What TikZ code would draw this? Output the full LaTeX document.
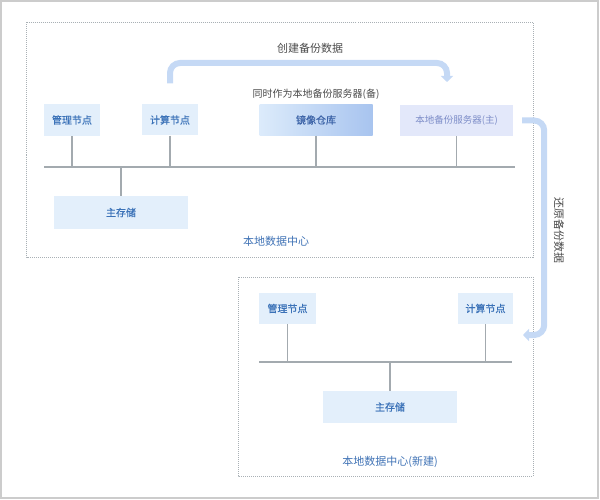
\documentclass[tikz,border=0pt]{standalone}
\usepackage{fontspec}
\setmainfont{Noto Sans CJK SC}
\newfontfamily\boxfont{Noto Sans CJK SC}[FakeBold=0.6]
\usepackage{tikz}
\usetikzlibrary{positioning,arrows.meta}

\definecolor{nodefill}{HTML}{E3EFFB}
\definecolor{nodetext}{HTML}{3B72B8}
\definecolor{repoleft}{HTML}{DCEBFB}
\definecolor{reporight}{HTML}{A8C4EF}
\definecolor{repotext}{HTML}{3D64A8}
\definecolor{bakfill}{HTML}{E3E8FA}
\definecolor{baktext}{HTML}{7D8DC8}
\definecolor{flowblue}{HTML}{C5D9F5}
\definecolor{framegray}{HTML}{A9B0B5}
\definecolor{busgray}{HTML}{A3AAAF}
\definecolor{notetext}{HTML}{4A4A4A}
\definecolor{zonetext}{HTML}{3F72B5}
\definecolor{edgegray}{HTML}{CCCCCC}

\begin{document}
\begin{tikzpicture}[
  x=1pt, y=-1pt,
  font=\fontsize{10}{12}\selectfont,
  node distance=5pt,
  unit/.style={fill=nodefill, text=nodetext, inner sep=0pt, align=center,
               font=\boxfont\fontsize{10}{12}\selectfont},
  repobox/.style={left color=repoleft, right color=reporight, text=repotext,
                  inner sep=0pt, align=center, font=\boxfont\fontsize{10}{12}\selectfont},
  bakbox/.style={fill=bakfill, text=baktext, inner sep=0pt, align=center,
                 font=\fontsize{9.5}{11}\selectfont},
  zone/.style={draw=framegray, line width=0.8pt, dash pattern=on 1pt off 1pt},
  zonelabel/.style={text=zonetext, inner sep=0pt, font=\fontsize{11}{13}\selectfont},
  note/.style={text=notetext, inner sep=0pt},
  bus/.style={draw=busgray, line width=1.6pt},
  tap/.style={draw=busgray, line width=1.1pt},
  flow/.style={draw=flowblue, line width=6pt, rounded corners=10pt,
               -{Triangle[width=12pt,length=6pt]}},
]
\useasboundingbox (0,0) rectangle (600,500);
\draw[edgegray, line width=1.2pt] (1,1) rectangle (598,498);

% ---- Local data centre ------------------------------------------------------
\draw[zone] (26.5,22.5) rectangle (533,257);

\node[unit, minimum width=56pt, minimum height=32pt] (mgmtA) at (72,120) {管理节点};
\node[unit, minimum width=56pt, minimum height=31pt] (calcA) at (170,120) {计算节点};
\node[repobox, minimum width=113pt, minimum height=31pt] (repo) at (316,120) {镜像仓库};
\node[bakbox, minimum width=113pt, minimum height=31pt] (srvA) at (456.5,120.5) {本地备份服务器(主)};
\node[unit, minimum width=134pt, minimum height=33pt] (storA) at (121,212.5) {主存储};

\node[note, above=5pt of repo] (repoNote) {同时作为本地备份服务器(备)};
\node[zonelabel] (dcA) at (276,241) {本地数据中心};

\coordinate (busAL) at (44,167);
\coordinate (busAR) at (515,167);
\draw[bus] (busAL) -- (busAR);
\draw[tap] (mgmtA.south) -- (mgmtA.south |- busAL);
\draw[tap] (calcA.south) -- (calcA.south |- busAL);
\draw[tap] (repo.south)  -- (repo.south |- busAL);
\draw[tap] (srvA.south)  -- (srvA.south |- busAL);
\draw[tap] (storA.north) -- (storA.north |- busAL);

% ---- New data centre --------------------------------------------------------
\draw[zone] (238,277) rectangle (533,476);

\node[unit, minimum width=57pt, minimum height=31pt] (mgmtB) at (287.5,308.5) {管理节点};
\node[unit, minimum width=55pt, minimum height=31pt] (calcB) at (485.5,308.5) {计算节点};
\node[unit, minimum width=134pt, minimum height=32pt] (storB) at (390,407) {主存储};
\node[zonelabel] (dcB) at (390,462) {本地数据中心(新建)};

\coordinate (busBL) at (259,362);
\coordinate (busBR) at (512,362);
\draw[bus] (busBL) -- (busBR);
\draw[tap] (mgmtB.south) -- (mgmtB.south |- busBL);
\draw[tap] (calcB.south) -- (calcB.south |- busBL);
\draw[tap] (storB.north) -- (storB.north |- busBL);

% ---- Backup flows -----------------------------------------------------------
\node[note, font=\fontsize{11}{13}\selectfont] (mkBak) at (310,48) {创建备份数据};
\coordinate (bakIn) at (447,82);
\draw[flow] ([yshift=21pt]calcA.north) |- ([yshift=19pt]bakIn) -- (bakIn);

\node[note, rotate=-90, font=\fontsize{11}{13}\selectfont] (restore) at (559,230) {还原备份数据};
\coordinate (newIn) at (523,335);
\draw[flow] ([xshift=9pt]srvA.east) -- ++(22,0) |- (newIn);

\end{tikzpicture}
\end{document}
